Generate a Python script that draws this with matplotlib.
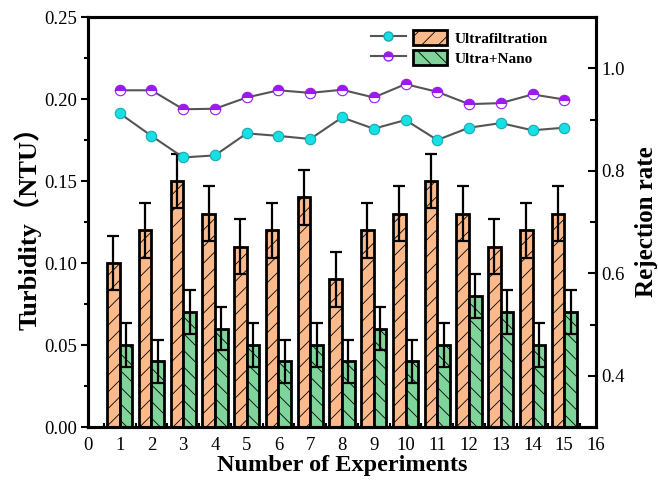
import matplotlib
matplotlib.use("Agg")
import matplotlib.pyplot as plt
import numpy as np
from matplotlib.legend_handler import HandlerTuple
from matplotlib.lines import Line2D
from matplotlib.patches import Patch
from matplotlib.ticker import FormatStrFormatter

plt.rcParams["font.family"] = ["Liberation Serif", "Noto Sans CJK SC"]
plt.rcParams["hatch.linewidth"] = 0.6

experiments = np.arange(1, 16)
uf_turbidity = [0.10, 0.12, 0.15, 0.13, 0.11, 0.12, 0.14, 0.09, 0.12, 0.13, 0.15, 0.13, 0.11, 0.12, 0.13]
nano_turbidity = [0.05, 0.04, 0.07, 0.06, 0.05, 0.04, 0.05, 0.04, 0.06, 0.04, 0.05, 0.08, 0.07, 0.05, 0.07]
uf_err = [0.0167] * 15
nano_err = [0.0133] * 15
uf_rejection = [0.912, 0.868, 0.826, 0.830, 0.873, 0.868, 0.862, 0.904, 0.882,
                0.899, 0.860, 0.884, 0.893, 0.879, 0.884]
nano_rejection = [0.957, 0.957, 0.920, 0.921, 0.943, 0.957, 0.952, 0.958, 0.943,
                  0.969, 0.954, 0.930, 0.932, 0.949, 0.939]

orange = "#FBBA8C"
green = "#7ED49B"
cyan = "#16E0E4"
purple = "#9B1AF0"
line_grey = "#555555"

fig = plt.figure(figsize=(6.58, 4.83), dpi=100)
ax = fig.add_axes([0.1337, 0.1159, 0.7721, 0.8489])
width = 0.4
err_style = dict(elinewidth=1.6, capthick=1.6, ecolor="black")

ax.bar(experiments - width / 2, uf_turbidity, width, color=orange, edgecolor="black",
       linewidth=2, hatch="//", yerr=uf_err, capsize=4, error_kw=err_style, zorder=2)
ax.bar(experiments + width / 2, nano_turbidity, width, color=green, edgecolor="black",
       linewidth=2, hatch="\\\\", yerr=nano_err, capsize=4, error_kw=err_style, zorder=2)

ax.set_xlim(0, 16)
ax.set_ylim(0, 0.25)
ax.set_xticks(range(0, 17))
ax.set_xticks(np.arange(0.5, 16, 1), minor=True)
ax.set_yticks(np.arange(0, 0.251, 0.05))
ax.set_yticks(np.arange(0.025, 0.25, 0.05), minor=True)
ax.yaxis.set_major_formatter(FormatStrFormatter("%.2f"))
ax.tick_params(axis="y", which="both", direction="out", width=1.5, labelsize=13.5, pad=3)
ax.tick_params(axis="y", which="major", length=5)
ax.tick_params(axis="y", which="minor", length=3)
ax.tick_params(axis="x", which="major", length=0, labelsize=13.5, pad=7)
ax.tick_params(axis="x", which="minor", direction="in", length=3, width=1.5)
ax.set_xlabel("Number of Experiments", fontsize=17.5, fontweight="bold", labelpad=1)
ax.set_ylabel("Turbidity（NTU）", fontsize=19, fontweight="bold", labelpad=2)
for spine in ax.spines.values():
    spine.set_linewidth(2.2)

ax2 = ax.twinx()
ax2.plot(experiments, uf_rejection, "-o", color=line_grey, lw=1.5, ms=7.5,
         mfc=cyan, mec="#1aa8b0", mew=0.8, zorder=3)
ax2.plot(experiments, nano_rejection, "-o", color=line_grey, lw=1.5, ms=7.5,
         mfc=purple, mec=purple, mfcalt="white", fillstyle="top", mew=0.8, zorder=3)
ax2.set_ylim(0.3, 1.1)
ax2.set_yticks([0.4, 0.6, 0.8, 1.0])
ax2.set_yticks([0.5, 0.7, 0.9], minor=True)
ax2.tick_params(axis="y", which="both", direction="in", width=1.5, labelsize=13.5, pad=4)
ax2.tick_params(axis="y", which="major", length=6)
ax2.tick_params(axis="y", which="minor", length=4)
ax2.set_ylabel("Rejection rate", fontsize=18, fontweight="bold", labelpad=7)
for spine in ax2.spines.values():
    spine.set_linewidth(2.2)

h1 = (Line2D([], [], color=line_grey, lw=1.5, marker="o", ms=6.5, mfc=cyan, mec="#1aa8b0"),
      Patch(facecolor=orange, edgecolor="black", linewidth=2, hatch="//"))
h2 = (Line2D([], [], color=line_grey, lw=1.5, marker="o", ms=6.5, mfc=purple, mec=purple,
             mfcalt="white", fillstyle="top"),
      Patch(facecolor=green, edgecolor="black", linewidth=2, hatch="\\\\"))
ax2.legend([h1, h2], ["Ultrafiltration", "Ultra+Nano"],
           handler_map={tuple: HandlerTuple(ndivide=None, pad=0.45)},
           loc="upper left", bbox_to_anchor=(0.545, 0.983), borderaxespad=0,
           frameon=False, handlelength=5.0, handleheight=1.1, handletextpad=0.5,
           labelspacing=0.3, prop={"weight": "bold", "size": 11})

fig.savefig("out.png", dpi=100)
